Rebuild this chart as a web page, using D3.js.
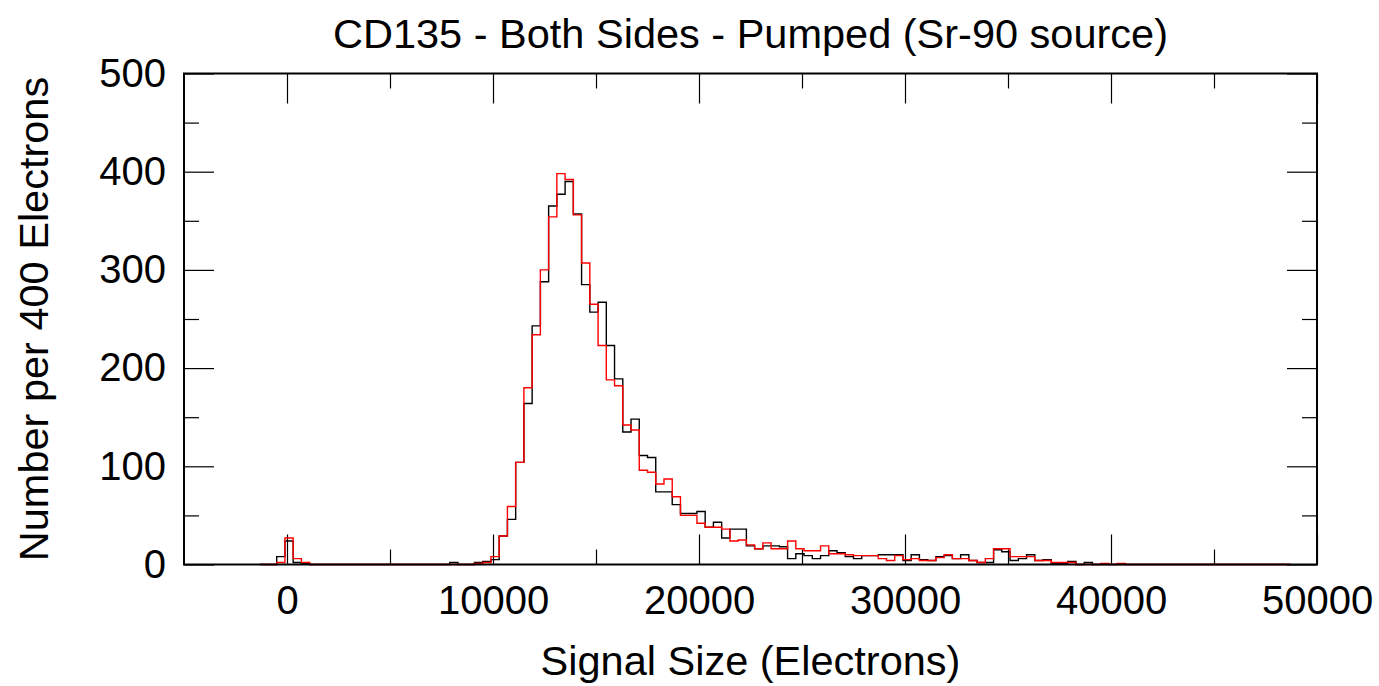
<!DOCTYPE html>
<html><head><meta charset="utf-8">
<script src="https://cdn.jsdelivr.net/npm/d3@7"></script>
<style>
body{margin:0;background:#fff}
svg{display:block}
text{font-family:"Liberation Sans",Arial,Helvetica,sans-serif;fill:#000}
</style>
</head><body>
<svg id="chart" width="1379" height="686"></svg>
<script>
// ---- data ----
const binStart = -1300;      // left edge of first bin (electrons)
const binWidth = 400;        // electrons per bin
const countsBlack = [
  0,0,8,24,2,1,
  0,0,0,0,0,0,0,0,0,0,0,0,0,0,0,0,0,
  2,0,0,2,3,5,
  29,46,104,164,243,288,365,377,390,357,
  285,257,267,223,189,135,148,111,109,74,
  74,61,52,52,54,38,43,27,36,36,
  19,16,19,19,18,6,11,9,6,9,
  14,12,8,6,9,9,10,10,10,4,
  10,5,4,8,9,6,10,4,2,2,
  15,13,4,6,10,4,5,1,1,3,
  0,2,
  0,0,0,0,0,0,0,0,0,0,0,0,0,0,0,0,0,0,0,0,0,0,0,0
];
const countsRed = [
  0,0,2,27,6,2,
  0,0,0,0,0,0,0,0,0,0,0,0,0,0,0,0,0,0,0,0,
  1,2,8,
  29,59,104,180,234,300,354,398,392,356,
  307,265,223,188,182,142,137,96,94,82,
  87,69,50,50,42,38,38,36,24,25,
  20,16,22,16,16,24,16,14,14,19,
  11,11,10,9,9,9,6,4,9,5,
  6,4,4,7,10,6,6,4,2,6,
  16,16,8,8,8,4,4,2,2,2,
  0,0,0,1,0,1,
  0,0,0,0,0,0,0,0,0,0,0,0,0,0,0,0,0,0,0,0
];
const xDomain = [-5000, 50000];
const yDomain = [0, 500];
const xMajorTicks = [0, 10000, 20000, 30000, 40000, 50000];
const xMinorTicks = [5000, 15000, 25000, 35000, 45000];
const yMajorTicks = [0, 100, 200, 300, 400, 500];
const yMinorTicks = [50, 150, 250, 350, 450];
const titleText = "CD135 - Both Sides - Pumped (Sr-90 source)";
const xLabelText = "Signal Size (Electrons)";
const yLabelText = "Number per 400 Electrons";

// ---- layout ----
const m = {l: 184, r: 1317, t: 73.5, b: 564.5};
const FS = 40, LFS = 41.5;
const svg = d3.select("#chart");
const x = d3.scaleLinear().domain(xDomain).range([m.l, m.r]);
const y = d3.scaleLinear().domain(yDomain).range([m.b, m.t]);

function styleAxis(g){
  g.select(".domain").remove();
  g.selectAll(".tick line").attr("stroke","#000").attr("stroke-width",1.2);
  g.selectAll(".tick text").attr("font-size",FS).attr("font-family",'"Liberation Sans",Arial,sans-serif').attr("fill","#000");
}
const MAJ = 30, MIN = 15;
// bottom
svg.append("g").attr("transform",`translate(0,${m.b})`)
  .call(d3.axisBottom(x).tickValues(xMajorTicks).tickSizeInner(-MAJ).tickSizeOuter(0).tickPadding(21).tickFormat(d3.format("d")))
  .call(styleAxis);
svg.append("g").attr("transform",`translate(0,${m.b})`)
  .call(d3.axisBottom(x).tickValues(xMinorTicks).tickSizeInner(-MIN).tickSizeOuter(0).tickFormat(""))
  .call(styleAxis);
// top
svg.append("g").attr("transform",`translate(0,${m.t})`)
  .call(d3.axisTop(x).tickValues(xMajorTicks).tickSizeInner(-MAJ).tickSizeOuter(0).tickFormat(""))
  .call(styleAxis);
svg.append("g").attr("transform",`translate(0,${m.t})`)
  .call(d3.axisTop(x).tickValues(xMinorTicks).tickSizeInner(-MIN).tickSizeOuter(0).tickFormat(""))
  .call(styleAxis);
// left
svg.append("g").attr("transform",`translate(${m.l},0)`)
  .call(d3.axisLeft(y).tickValues(yMajorTicks).tickSizeInner(-MAJ).tickSizeOuter(0).tickPadding(18).tickFormat(d3.format("d")))
  .call(styleAxis);
svg.append("g").attr("transform",`translate(${m.l},0)`)
  .call(d3.axisLeft(y).tickValues(yMinorTicks).tickSizeInner(-MIN).tickSizeOuter(0).tickFormat(""))
  .call(styleAxis);
// right
svg.append("g").attr("transform",`translate(${m.r},0)`)
  .call(d3.axisRight(y).tickValues(yMajorTicks).tickSizeInner(-MAJ).tickSizeOuter(0).tickFormat(""))
  .call(styleAxis);
svg.append("g").attr("transform",`translate(${m.r},0)`)
  .call(d3.axisRight(y).tickValues(yMinorTicks).tickSizeInner(-MIN).tickSizeOuter(0).tickFormat(""))
  .call(styleAxis);

// histograms
function stepPoints(counts){
  const pts = [[binStart, 0]];
  counts.forEach((c,i)=>pts.push([binStart + i*binWidth, c]));
  pts.push([binStart + counts.length*binWidth, 0]);
  return pts;
}
const line = d3.line().x(d=>x(d[0])).y(d=>y(d[1])).curve(d3.curveStepAfter);
svg.append("path").attr("d", line(stepPoints(countsBlack)))
  .attr("fill","none").attr("stroke","#000").attr("stroke-width",1.4);
svg.append("path").attr("d", line(stepPoints(countsRed)))
  .attr("fill","none").attr("stroke","#ff0000").attr("stroke-width",1.4);

// frame
svg.append("rect").attr("x",m.l).attr("y",m.t).attr("width",m.r-m.l).attr("height",m.b-m.t)
  .attr("fill","none").attr("stroke","#000").attr("stroke-width",2);

// title & labels
svg.append("text").attr("x",(m.l+m.r)/2).attr("y",48).attr("text-anchor","middle")
  .attr("font-size",LFS).text(titleText);
svg.append("text").attr("x",(m.l+m.r)/2).attr("y",675).attr("text-anchor","middle")
  .attr("font-size",LFS).text(xLabelText);
svg.append("text").attr("transform",`translate(48,${(m.t+m.b)/2}) rotate(-90)`).attr("text-anchor","middle")
  .attr("font-size",LFS).text(yLabelText);
</script>
</body></html>
